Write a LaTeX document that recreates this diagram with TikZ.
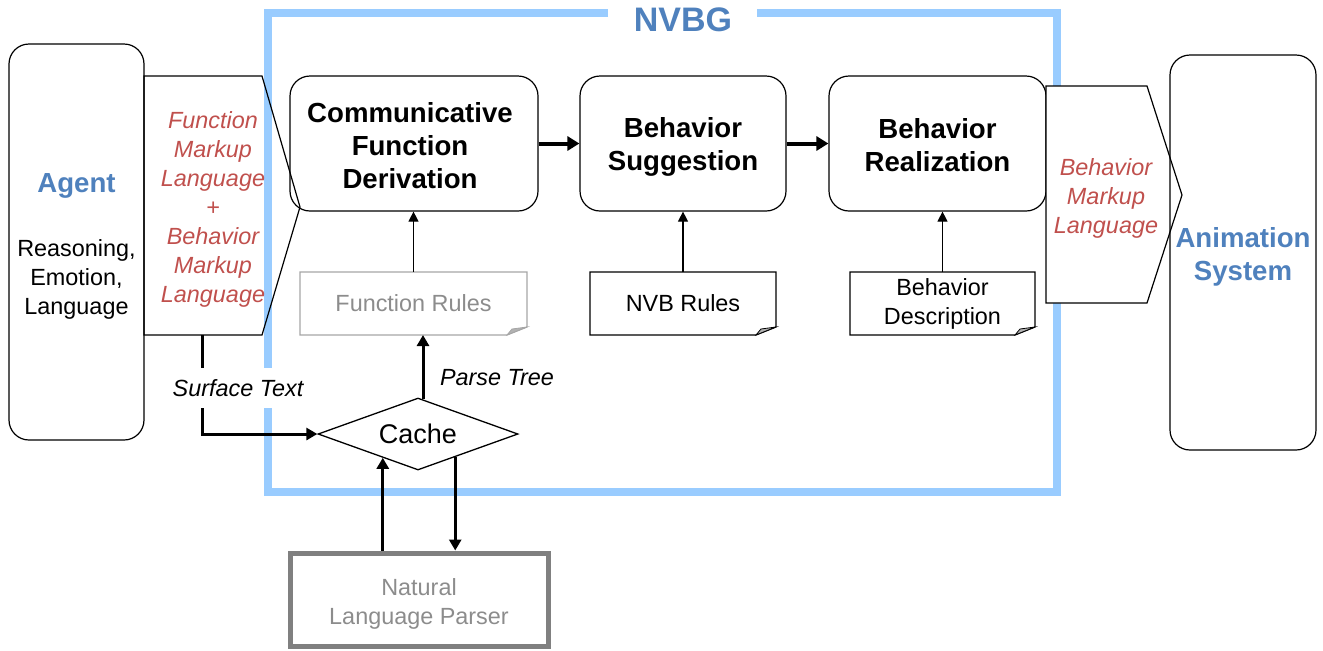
\documentclass[tikz,border=0pt]{standalone}
\usepackage{fontspec}
\setmainfont{Liberation Sans}
\usetikzlibrary{arrows.meta,shapes.geometric,calc}
\definecolor{framblue}{RGB}{153,204,255}
\definecolor{titleblue}{RGB}{79,129,189}
\definecolor{mlred}{RGB}{192,80,77}
\newcommand\docoutline[3]{%
  \draw[#2, line width=0.6pt] (#1.north west) -- (#1.north east) -- ($(#1.south east)+(0,-8)$) -- ($(#1.south east)+(-20,0)$) -- (#1.south west) -- cycle;
  \filldraw[#3, line width=0.4pt] ($(#1.south east)+(0,-8)$) -- ($(#1.south east)+(-20,0)$) -- ($(#1.south east)+(-15,-6)$) -- cycle;
}
\begin{document}
\begin{tikzpicture}[x=0.5pt,y=-0.5pt,
  rbox/.style={draw=black, line width=0.6pt, rounded corners=10pt, inner sep=0pt, align=center},
  boldtxt/.style={font=\bfseries\fontsize{13.8}{16.5}\selectfont, align=center},
  normtxt/.style={font=\fontsize{11.7}{14.5}\selectfont, align=center},
  redtxt/.style={text=mlred, font=\itshape\fontsize{11.7}{14.5}\selectfont, align=center},
  bluetxt/.style={text=titleblue, font=\bfseries\fontsize{13.8}{16.5}\selectfont, align=center},
  docnode/.style={inner sep=0pt, outer sep=0pt, align=center, font=\fontsize{11.7}{14.5}\selectfont, minimum height=31.5pt},
  thinarrow/.style={line width=0.6pt, -{Triangle[length=5pt,width=5pt]}},
  thickarrow/.style={line width=2pt, -{Triangle[length=6pt,width=7pt]}},
  medarrow/.style={line width=1.5pt, -{Triangle[length=5.5pt,width=6pt]}},
]
\useasboundingbox (0,0) rectangle (1323,650);

% NVBG frame
\draw[framblue, line width=4pt] (608,13) -- (268,13) -- (268,492) -- (1057,492) -- (1057,13) -- (757,13);
\node[text=titleblue, font=\bfseries\fontsize{17}{20}\selectfont] (nvbg) at (683,20) {NVBG};

% Agent
\node[rbox, minimum width=67.5pt, minimum height=198pt] (agent) at (76.5,242) {};
\node[bluetxt] (agentt) at (76.5,186) {Agent};
\node[normtxt] (agentd) at (76.5,279.5) {Reasoning,\\Emotion,\\Language};

% main boxes
\node[rbox, fill=white, minimum width=124pt, minimum height=67.5pt] (cfd) at (414,143.5) {};
\node[boldtxt] (cfdt) at (410,145.5) {Communicative\\Function\\Derivation};
\node[rbox, fill=white, minimum width=103pt, minimum height=67.5pt] (bs) at (683,143.5) {};
\node[boldtxt] (bst) at (683,146.5) {Behavior\\Suggestion};
\node[rbox, fill=white, minimum width=108.5pt, minimum height=67.5pt] (br) at (937.5,143.5) {};
\node[boldtxt] (brt) at (937.5,145.5) {Behavior\\Realization};

\draw[thickarrow] (cfd.east) -- (bs.west);
\draw[thickarrow] (bs.east) -- (br.west);

% left markup pentagon (drawn over the frame and CFD box)
\draw[line width=0.6pt] (144,76) -- (262,76) -- (300,207) -- (262,335) -- (144,335) -- cycle;
\node[redtxt] (fmlbml) at (213,209) {Function\\Markup\\Language\\+\\Behavior\\Markup\\Language};
\coordinate (stsrc) at (202,335);

% documents
\node[docnode, text=black!45, minimum width=113.5pt] (fr) at (413.5,303.5) {Function Rules};
\docoutline{fr}{draw=black!35}{draw=black!35, fill=black!30}
\node[docnode, minimum width=93pt] (nvbr) at (683,303.5) {NVB Rules};
\docoutline{nvbr}{draw=black}{draw=black, fill=black!30}
\node[docnode, minimum width=92.5pt] (bd) at (942.5,303.5) {Behavior\\Description};
\docoutline{bd}{draw=black}{draw=black, fill=black!30}

\draw[thinarrow] (fr.north) -- (fr.north |- cfd.south);
\draw[thinarrow] (nvbr.north) -- (nvbr.north |- bs.south);
\draw[thinarrow] (bd.north) -- (bd.north |- br.south);

% right markup pentagon
\draw[line width=0.6pt, fill=white] (1046,86) -- (1147,86) -- (1182,195) -- (1147,303) -- (1046,303) -- cycle;
\node[redtxt] (bml) at (1106,198) {Behavior\\Markup\\Language};

% Animation system
\node[rbox, minimum width=73pt, minimum height=197.5pt] (anim) at (1243,252.5) {};
\node[bluetxt] (animt) at (1243,256.5) {Animation\\System};

% cache
\node[diamond, draw, line width=0.65pt, fill=white, minimum width=100pt, minimum height=36pt, inner sep=0pt, aspect=2.78, font=\fontsize{13.5}{16}\selectfont] (cache) at (418,434) {Cache};

% Surface text
\draw[medarrow] (stsrc) |- (cache.west);
\node[fill=white, inner xsep=1pt, inner ysep=5.5pt, font=\itshape\fontsize{11.7}{14}\selectfont] (stlbl) at (238,388) {Surface Text};

% Parse tree
\coordinate (ptsrc) at ([xshift=2.5pt,yshift=-1pt]cache.north);
\draw[medarrow] (ptsrc) -- (ptsrc |- fr.south);
\node[font=\itshape\fontsize{11.7}{14}\selectfont] (ptlbl) at (497,378) {Parse Tree};

% parser
\node[draw=black!50, line width=2.5pt, minimum width=129pt, minimum height=46.5pt, inner sep=0pt] (nlp) at (419,599.5) {};
\node[text=black!45, align=center, font=\fontsize{11.7}{14.5}\selectfont] (nlpt) at (419,603.5) {Natural\\Language Parser};
\path (cache.south) -- (cache.west) coordinate[pos=0.35] (cl);
\path (cache.south) -- (cache.east) coordinate[pos=0.37] (cr);
\draw[medarrow] (nlp.north -| cl) -- (cl);
\draw[medarrow] (cr) -- (nlp.north -| cr);
\end{tikzpicture}
\end{document}
